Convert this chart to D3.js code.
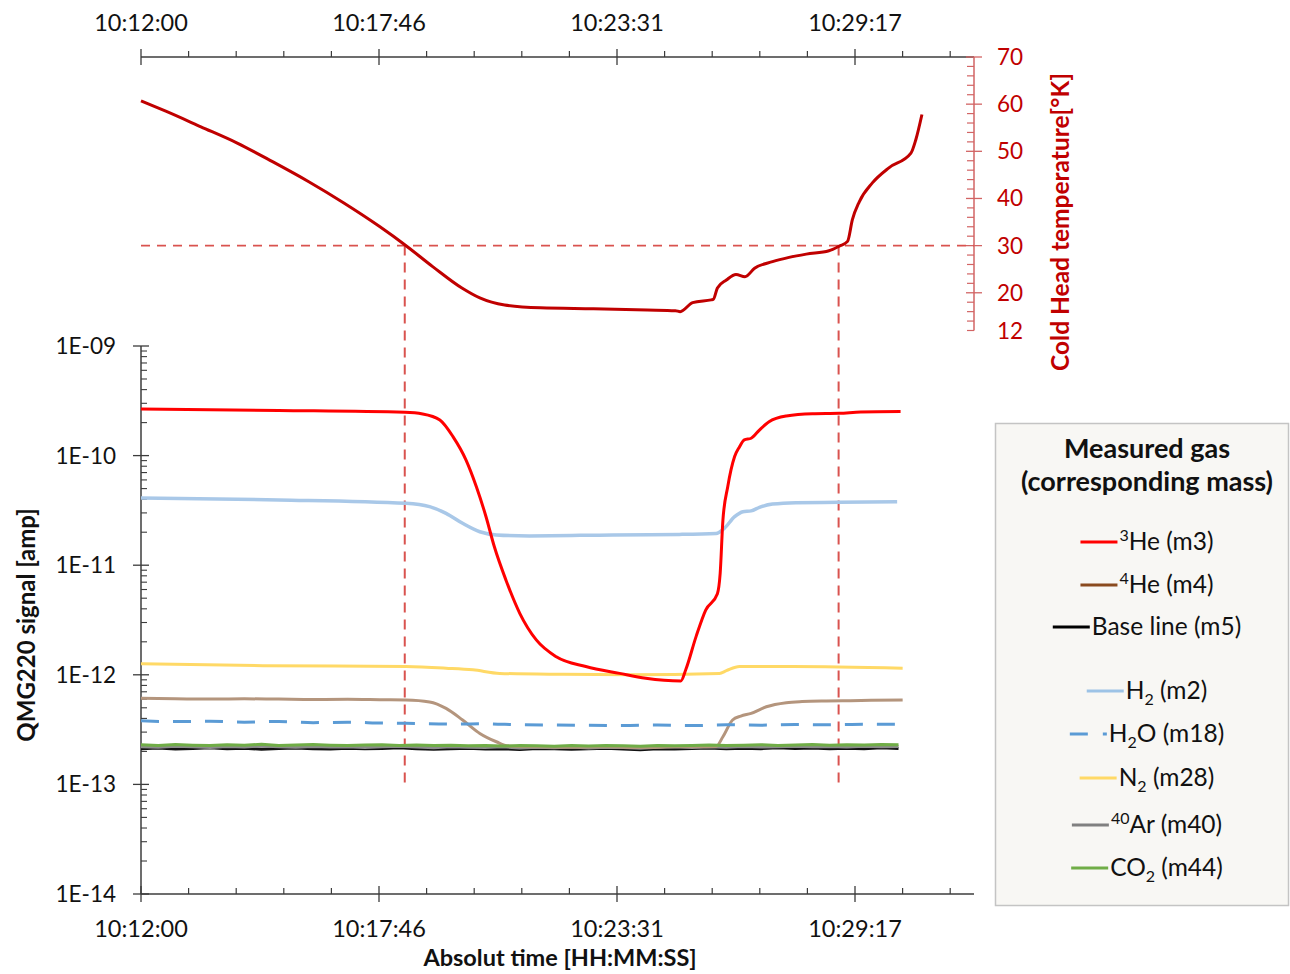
<!DOCTYPE html>
<html>
<head>
<meta charset="utf-8">
<script src="https://cdn.jsdelivr.net/npm/d3@7"></script>
<style>
  body { margin: 0; background: #fff; }
  svg { display: block; }
  text { font-family: Lato, "Open Sans", sans-serif; }
</style>
</head>
<body>
<svg id="chart" width="1290" height="974"></svg>
<script>
// ---- time axis (seconds after 10:12:00) ----
const timeTickSeconds = [0, 345.6, 691.2, 1036.8];
const timeTickLabels = ["10:12:00", "10:17:46", "10:23:31", "10:29:17"];
const timeMax = 1209.6;

// ---- signal axis ----
const signalTickValues = [1e-9, 1e-10, 1e-11, 1e-12, 1e-13, 1e-14];
const signalTickLabels = ["1E-09", "1E-10", "1E-11", "1E-12", "1E-13", "1E-14"];

// ---- temperature axis ----
const tempTickValues = [70, 60, 50, 40, 30, 20, 12];
const tempTickLabels = ["70", "60", "50", "40", "30", "20", "12"];

// ---- cold head temperature [K] ----
const tempTimes = [0, 36, 87, 139, 191, 243, 294, 347, 383, 424, 466, 492, 528, 580, 657, 735, 776, 783, 801, 828, 831, 837, 850, 864, 877, 891, 917, 941, 966, 999, 1014, 1026, 1033, 1043, 1062, 1086, 1118, 1125, 1134];
const tempValues = [60.7, 58.5, 55.2, 51.8, 47.8, 43.6, 39.1, 34.0, 30.2, 25.5, 21.0, 18.9, 17.4, 16.8, 16.6, 16.35, 16.2, 16.0, 17.9, 18.5, 18.6, 21.0, 22.7, 23.9, 23.4, 25.2, 26.6, 27.5, 28.2, 28.9, 29.9, 30.9, 35.5, 39.3, 43.3, 46.5, 49.6, 52.4, 57.8];

// ---- 30 K crossings ----
const thresholdTemp = 30;
const crossingTimes = [383, 1013];
const guideFloor = 1e-13;

// ---- 3He (m3) ----
const he3Times = [0, 200, 383, 409, 434, 453, 472, 487, 501, 513, 530, 550, 574, 603, 646, 695, 733, 784, 791, 806, 820, 837, 841, 845, 852, 862, 869, 876, 886, 898, 912, 937, 975, 1014, 1045, 1103];
const he3Values = [2.66e-10, 2.58e-10, 2.48e-10, 2.40e-10, 2.11e-10, 1.49e-10, 9.1e-11, 5.2e-11, 2.77e-11, 1.48e-11, 7.3e-12, 3.64e-12, 2.08e-12, 1.46e-12, 1.19e-12, 1.03e-12, 9.3e-13, 8.8e-13, 1.11e-12, 2.23e-12, 3.9e-12, 5.5e-12, 8.4e-12, 2.58e-11, 5.2e-11, 9.8e-11, 1.2e-10, 1.39e-10, 1.44e-10, 1.71e-10, 2.04e-10, 2.30e-10, 2.41e-10, 2.43e-10, 2.50e-10, 2.52e-10];

// ---- H2 (m2) ----
const h2Times = [0, 200, 385, 419, 443, 467, 492, 516, 564, 685, 782, 835, 847, 862, 874, 886, 898, 917, 951, 1014, 1098];
const h2Values = [4.1e-11, 3.94e-11, 3.67e-11, 3.42e-11, 2.97e-11, 2.41e-11, 2.02e-11, 1.89e-11, 1.85e-11, 1.89e-11, 1.91e-11, 1.95e-11, 2.17e-11, 2.77e-11, 3.08e-11, 3.13e-11, 3.37e-11, 3.61e-11, 3.72e-11, 3.75e-11, 3.8e-11];

// ---- N2 (m28) ----
const n2Times = [0, 177, 385, 443, 482, 521, 613, 709, 840, 850, 869, 946, 1106];
const n2Values = [1.26e-12, 1.21e-12, 1.19e-12, 1.15e-12, 1.11e-12, 1.03e-12, 1.01e-12, 1.0e-12, 1.03e-12, 1.09e-12, 1.19e-12, 1.19e-12, 1.15e-12];

// ---- 4He (m4) ----
const he4Times = [0, 50, 100, 150, 200, 250, 300, 350, 385, 419, 443, 467, 492, 516, 533, 575, 625, 675, 725, 775, 835, 845, 859, 871, 886, 908, 937, 960, 995, 1030, 1060, 1106];
const he4Values = [6.1e-13, 6.05e-13, 6.0e-13, 6.04e-13, 6.0e-13, 5.95e-13, 5.97e-13, 5.92e-13, 5.89e-13, 5.65e-13, 4.94e-13, 3.87e-13, 2.92e-13, 2.45e-13, 2.24e-13, 2.2e-13, 2.18e-13, 2.2e-13, 2.17e-13, 2.2e-13, 2.22e-13, 2.72e-13, 3.87e-13, 4.2e-13, 4.45e-13, 5.11e-13, 5.57e-13, 5.7e-13, 5.77e-13, 5.8e-13, 5.85e-13, 5.89e-13];

// ---- H2O (m18) ----
const h2oTimes = [0, 50, 100, 150, 200, 250, 300, 350, 385, 450, 500, 550, 600, 650, 700, 750, 800, 850, 900, 950, 1000, 1050, 1106];
const h2oValues = [3.80e-13, 3.74e-13, 3.77e-13, 3.70e-13, 3.75e-13, 3.66e-13, 3.69e-13, 3.63e-13, 3.61e-13, 3.55e-13, 3.57e-13, 3.50e-13, 3.48e-13, 3.46e-13, 3.45e-13, 3.48e-13, 3.44e-13, 3.50e-13, 3.47e-13, 3.52e-13, 3.50e-13, 3.54e-13, 3.53e-13];

// ---- noisy low-level channels, sampled every 25 s ----
const lowTimes = [0, 25, 50, 75, 100, 125, 150, 175, 200, 225, 250, 275, 300, 325, 350, 375, 400, 425, 450, 475, 500, 525, 550, 575, 600, 625, 650, 675, 700, 725, 750, 775, 800, 825, 850, 875, 900, 925, 950, 975, 1000, 1025, 1050, 1075, 1100];
const baseValues = [2.12e-13, 2.15e-13, 2.10e-13, 2.13e-13, 2.16e-13, 2.11e-13, 2.14e-13, 2.09e-13, 2.13e-13, 2.15e-13, 2.12e-13, 2.10e-13, 2.14e-13, 2.11e-13, 2.13e-13, 2.16e-13, 2.12e-13, 2.09e-13, 2.11e-13, 2.14e-13, 2.10e-13, 2.12e-13, 2.08e-13, 2.13e-13, 2.11e-13, 2.09e-13, 2.12e-13, 2.14e-13, 2.10e-13, 2.07e-13, 2.12e-13, 2.10e-13, 2.13e-13, 2.15e-13, 2.11e-13, 2.14e-13, 2.12e-13, 2.16e-13, 2.13e-13, 2.15e-13, 2.12e-13, 2.14e-13, 2.11e-13, 2.16e-13, 2.13e-13];
const ar40Values = [2.21e-13, 2.18e-13, 2.23e-13, 2.20e-13, 2.17e-13, 2.22e-13, 2.19e-13, 2.24e-13, 2.20e-13, 2.18e-13, 2.22e-13, 2.19e-13, 2.21e-13, 2.17e-13, 2.20e-13, 2.23e-13, 2.19e-13, 2.16e-13, 2.20e-13, 2.18e-13, 2.17e-13, 2.20e-13, 2.15e-13, 2.18e-13, 2.16e-13, 2.19e-13, 2.15e-13, 2.18e-13, 2.17e-13, 2.14e-13, 2.18e-13, 2.21e-13, 2.17e-13, 2.20e-13, 2.18e-13, 2.22e-13, 2.19e-13, 2.21e-13, 2.23e-13, 2.20e-13, 2.22e-13, 2.19e-13, 2.23e-13, 2.21e-13, 2.22e-13];
const co2Values = [2.30e-13, 2.27e-13, 2.31e-13, 2.28e-13, 2.26e-13, 2.30e-13, 2.28e-13, 2.32e-13, 2.27e-13, 2.29e-13, 2.31e-13, 2.28e-13, 2.26e-13, 2.29e-13, 2.30e-13, 2.27e-13, 2.29e-13, 2.26e-13, 2.28e-13, 2.25e-13, 2.27e-13, 2.24e-13, 2.26e-13, 2.25e-13, 2.23e-13, 2.26e-13, 2.24e-13, 2.27e-13, 2.25e-13, 2.23e-13, 2.26e-13, 2.25e-13, 2.27e-13, 2.29e-13, 2.26e-13, 2.28e-13, 2.30e-13, 2.27e-13, 2.29e-13, 2.31e-13, 2.28e-13, 2.30e-13, 2.29e-13, 2.31e-13, 2.30e-13];

// ---- legend ----
const legendLabels = ["^3He (m3)", "^4He (m4)", "Base line (m5)", "H_2 (m2)", "H_2O (m18)", "N_2 (m28)", "^40Ar (m40)", "CO_2 (m44)"];
const legendColors = ["#ff0000", "#8a4a1e", "#000000", "#9dc3e6", "#5b9bd5", "#ffd966", "#808080", "#70ad47"];
const legendDashes = [null, null, null, null, "18,15", null, null, null];
const legendTitle = ["Measured gas", "(corresponding mass)"];

// ---------------------------------------------------------------
const svg = d3.select("#chart");

const x = d3.scaleLinear().domain([0, timeMax]).range([141, 974]);
const y = d3.scaleLog().domain([1e-14, 1e-9]).range([894, 346]);
const yT = d3.scaleLinear().domain([12, 70]).range([330.5, 57]);

const axisColor = "#3c3c3c";
const tempAxisColor = "#d26464";
const tempTextColor = "#c00000";
const tickFont = 23.5;

const zip = (ts, vs) => ts.map((t, i) => [t, vs[i]]);

// ---------- axes ----------
const axes = svg.append("g");
const minorTimes = d3.range(0, timeMax + 1e-6, 69.12).filter(t => !timeTickSeconds.some(m => Math.abs(m - t) < 1));

function timeAxis(yPos, minorDir, labelY) {
  const g = axes.append("g");
  g.append("line").attr("x1", x(0)).attr("x2", x(timeMax)).attr("y1", yPos).attr("y2", yPos)
    .attr("stroke", axisColor).attr("stroke-width", 1.5);
  g.selectAll(".maj").data(timeTickSeconds).join("line")
    .attr("x1", d => x(d)).attr("x2", d => x(d)).attr("y1", yPos - 8).attr("y2", yPos + 8)
    .attr("stroke", axisColor).attr("stroke-width", 1.3);
  g.selectAll(".min").data(minorTimes).join("line")
    .attr("x1", d => x(d)).attr("x2", d => x(d)).attr("y1", yPos).attr("y2", yPos + minorDir * 6)
    .attr("stroke", axisColor).attr("stroke-width", 1.2);
  g.selectAll("text").data(timeTickSeconds).join("text")
    .attr("x", d => x(d)).attr("y", labelY).attr("text-anchor", "middle")
    .attr("font-size", tickFont).attr("fill", "#111")
    .text((d, i) => timeTickLabels[i]);
}
timeAxis(894, -1, 937);
timeAxis(57, -1, 31);

// left log axis
{
  const g = axes.append("g");
  g.append("line").attr("x1", 141).attr("x2", 141).attr("y1", y(1e-9)).attr("y2", y(1e-14))
    .attr("stroke", axisColor).attr("stroke-width", 1.5);
  g.selectAll(".maj").data(signalTickValues).join("line")
    .attr("x1", 133).attr("x2", 149).attr("y1", d => y(d)).attr("y2", d => y(d))
    .attr("stroke", axisColor).attr("stroke-width", 1.3);
  const minors = [];
  for (let e = -14; e < -9; e++) for (let k = 2; k <= 9; k++) minors.push(k * Math.pow(10, e));
  g.selectAll(".min").data(minors).join("line")
    .attr("x1", 141).attr("x2", 147).attr("y1", d => y(d)).attr("y2", d => y(d))
    .attr("stroke", axisColor).attr("stroke-width", 1.1);
  g.selectAll("text").data(signalTickValues).join("text")
    .attr("x", 116).attr("y", d => y(d) + 8).attr("text-anchor", "end")
    .attr("font-size", 22.5).attr("fill", "#111")
    .text((d, i) => signalTickLabels[i]);
}

// right temperature axis
{
  const ax = x(timeMax);
  const g = axes.append("g");
  g.append("line").attr("x1", ax).attr("x2", ax).attr("y1", yT(70)).attr("y2", yT(12))
    .attr("stroke", tempAxisColor).attr("stroke-width", 1.5);
  g.selectAll(".maj").data(tempTickValues.filter(v => v !== 12)).join("line")
    .attr("x1", ax - 8).attr("x2", ax + 8).attr("y1", d => yT(d)).attr("y2", d => yT(d))
    .attr("stroke", tempAxisColor).attr("stroke-width", 1.3);
  g.selectAll(".min").data(d3.range(12, 70, 2).filter(v => v % 10 !== 0)).join("line")
    .attr("x1", ax - 7).attr("x2", ax).attr("y1", d => yT(d)).attr("y2", d => yT(d))
    .attr("stroke", tempAxisColor).attr("stroke-width", 1.2);
  g.selectAll("text").data(tempTickValues).join("text")
    .attr("x", ax + 23).attr("y", d => yT(d) + 8)
    .attr("font-size", 22.5).attr("fill", tempTextColor)
    .text((d, i) => tempTickLabels[i]);
}

// axis titles
svg.append("text").attr("x", 560).attr("y", 966).attr("text-anchor", "middle")
  .attr("font-size", 23.5).attr("font-weight", "bold").attr("fill", "#111")
  .text("Absolut time [HH:MM:SS]");
svg.append("text").attr("transform", "translate(35,625) rotate(-90)").attr("text-anchor", "middle")
  .attr("font-size", 24).attr("font-weight", "bold").attr("fill", "#111")
  .text("QMG220 signal [amp]");
svg.append("text").attr("transform", "translate(1069,222) rotate(-90)").attr("text-anchor", "middle")
  .attr("font-size", 24.5).attr("font-weight", "bold").attr("fill", tempTextColor)
  .text("Cold Head temperature[°K]");

// ---------- 30 K guide lines ----------
const guideColor = "#d9534f";
svg.append("line")
  .attr("x1", x(0)).attr("x2", x(timeMax)).attr("y1", yT(thresholdTemp)).attr("y2", yT(thresholdTemp))
  .attr("stroke", guideColor).attr("stroke-width", 1.8).attr("stroke-dasharray", "9,7");
svg.selectAll(".guide").data(crossingTimes).join("line")
  .attr("x1", d => x(d)).attr("x2", d => x(d))
  .attr("y1", yT(thresholdTemp)).attr("y2", y(guideFloor))
  .attr("stroke", guideColor).attr("stroke-width", 2).attr("stroke-dasharray", "10,7");

// ---------- series ----------
const signalLine = curve => d3.line().x(d => x(d[0])).y(d => y(d[1])).curve(curve);

function drawSignal(data, color, width, curve, dash) {
  svg.append("path").datum(data)
    .attr("fill", "none").attr("stroke", color).attr("stroke-width", width)
    .attr("stroke-linejoin", "round").attr("stroke-linecap", "butt")
    .attr("stroke-dasharray", dash || null)
    .attr("d", signalLine(curve));
}

drawSignal(zip(lowTimes, baseValues), "#111111", 3, d3.curveLinear);
drawSignal(zip(lowTimes, ar40Values), "#8c8c8c", 3, d3.curveLinear);
drawSignal(zip(he4Times, he4Values), "#b4957d", 3, d3.curveMonotoneX);
drawSignal(zip(lowTimes, co2Values), "#70ad47", 3, d3.curveLinear);
drawSignal(zip(h2oTimes, h2oValues), "#5b9bd5", 3, d3.curveMonotoneX, "18,14");
drawSignal(zip(n2Times, n2Values), "#ffd966", 3, d3.curveMonotoneX);
drawSignal(zip(h2Times, h2Values), "#a9c8e8", 3.5, d3.curveMonotoneX);
drawSignal(zip(he3Times, he3Values), "#ff0000", 3, d3.curveMonotoneX);

// temperature
svg.append("path").datum(zip(tempTimes, tempValues))
  .attr("fill", "none").attr("stroke", "#c00000").attr("stroke-width", 3)
  .attr("stroke-linejoin", "round")
  .attr("d", d3.line().x(d => x(d[0])).y(d => yT(d[1])).curve(d3.curveMonotoneX));

// ---------- legend ----------
const lg = svg.append("g");
lg.append("rect").attr("x", 995.5).attr("y", 423.5).attr("width", 293).attr("height", 482)
  .attr("fill", "#f8f7f4").attr("stroke", "#c4c4c4").attr("stroke-width", 1.5);
const legendCx = 1147;
lg.selectAll(".title").data(legendTitle).join("text")
  .attr("x", legendCx).attr("y", (d, i) => 458 + i * 33).attr("text-anchor", "middle")
  .attr("font-size", 27).attr("font-weight", "bold").attr("fill", "#111")
  .text(d => d);

const rowY = [542, 585, 627, 691, 734, 778, 825, 868];

function richText(sel, label) {
  // ^digits -> superscript, _digits -> subscript
  const parts = label.match(/(\^\d+|_\d+|[^\^_]+)/g);
  let shift = 0;
  parts.forEach(p => {
    if (p[0] === "^") {
      sel.append("tspan").attr("font-size", 16).attr("dy", -9 - shift).text(p.slice(1));
      shift = -9;
    } else if (p[0] === "_") {
      sel.append("tspan").attr("font-size", 16).attr("dy", 6 - shift).text(p.slice(1));
      shift = 6;
    } else {
      sel.append("tspan").attr("dy", -shift).text(p);
      shift = 0;
    }
  });
}

legendLabels.forEach((label, i) => {
  const g = lg.append("g");
  const t = g.append("text").attr("y", rowY[i] + 8).attr("font-size", 24.5).attr("fill", "#111");
  richText(t, label);
  const w = t.node().getComputedTextLength();
  const sw = 37, gap = 2;
  const x0 = legendCx - (sw + gap + w) / 2;
  g.append("line").attr("x1", x0).attr("x2", x0 + sw).attr("y1", rowY[i]).attr("y2", rowY[i])
    .attr("stroke", legendColors[i]).attr("stroke-width", 3)
    .attr("stroke-dasharray", legendDashes[i]);
  t.attr("x", x0 + sw + gap);
});
</script>
</body>
</html>
